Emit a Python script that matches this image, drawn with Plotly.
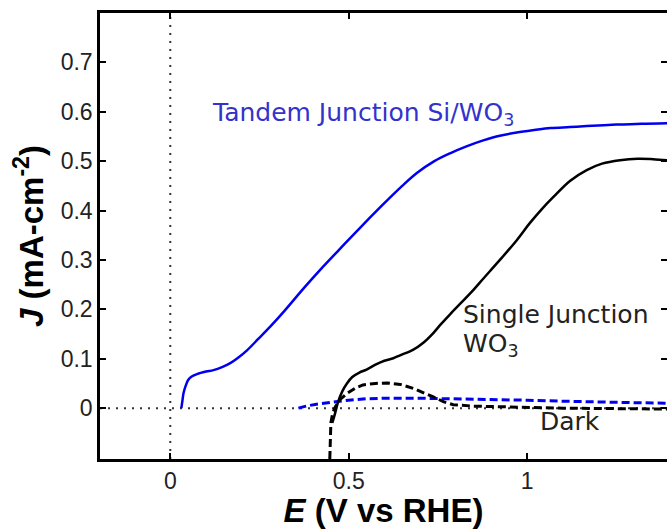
import plotly.graph_objects as go

# ---- data ----
tandem_E = [0.031, 0.034, 0.037, 0.043, 0.050, 0.060, 0.075, 0.100, 0.121, 0.145, 0.168, 0.190,
            0.215, 0.245, 0.280, 0.320, 0.373, 0.420, 0.467, 0.504, 0.560, 0.597, 0.650, 0.691,
            0.740, 0.784, 0.830, 0.877, 0.920, 0.971, 1.020, 1.065, 1.120, 1.167, 1.250, 1.320, 1.392]
tandem_J = [0.000, 0.015, 0.030, 0.045, 0.057, 0.064, 0.069, 0.074, 0.077, 0.083, 0.091, 0.102,
            0.117, 0.139, 0.165, 0.197, 0.242, 0.280, 0.316, 0.344, 0.386, 0.413, 0.450, 0.476,
            0.500, 0.516, 0.530, 0.542, 0.551, 0.558, 0.563, 0.567, 0.569, 0.571, 0.574, 0.576, 0.577]

single_E = [0.454, 0.462, 0.470, 0.482, 0.495, 0.510, 0.530, 0.550, 0.575, 0.600, 0.625, 0.644,
            0.680, 0.710, 0.737, 0.756, 0.784, 0.849, 0.877, 0.920, 0.971, 1.008, 1.040, 1.073,
            1.120, 1.167, 1.210, 1.260, 1.310, 1.353, 1.392]
single_J = [-0.030, -0.010, 0.012, 0.034, 0.050, 0.063, 0.072, 0.078, 0.088, 0.096, 0.101, 0.107,
            0.118, 0.133, 0.152, 0.168, 0.190, 0.239, 0.262, 0.297, 0.340, 0.375, 0.402, 0.427,
            0.460, 0.482, 0.495, 0.502, 0.505, 0.504, 0.502]

dark_tandem_E = [0.359, 0.380, 0.410, 0.448, 0.500, 0.550, 0.600, 0.700, 0.800, 0.900, 1.000,
                 1.100, 1.200, 1.300, 1.392]
dark_tandem_J = [0.000, 0.004, 0.008, 0.012, 0.016, 0.019, 0.020, 0.020, 0.019, 0.017, 0.016,
                 0.014, 0.012, 0.011, 0.010]

dark_single_E = [0.447, 0.448, 0.450, 0.455, 0.462, 0.475, 0.496, 0.520, 0.540, 0.575, 0.608,
                 0.645, 0.681, 0.710, 0.737, 0.765, 0.793, 0.850, 0.900, 0.980, 1.100, 1.250, 1.392]
dark_single_J = [-0.103, -0.060, -0.030, -0.010, 0.002, 0.017, 0.030, 0.041, 0.047, 0.050, 0.051,
                 0.048, 0.040, 0.031, 0.023, 0.013, 0.007, 0.004, 0.003, 0.002, 0.000, -0.001, -0.002]

x_ticks = [0, 0.5, 1]
x_ticklabels = ["0", "0.5", "1"]
y_ticks = [0, 0.1, 0.2, 0.3, 0.4, 0.5, 0.6, 0.7]
y_ticklabels = ["0", "0.1", "0.2", "0.3", "0.4", "0.5", "0.6", "0.7"]

x_range = [-0.197, 1.392]
y_range = [-0.103, 0.8]

BLUE = "#0000ee"
fig = go.Figure()

fig.add_trace(go.Scatter(x=dark_tandem_E, y=dark_tandem_J, mode="lines",
                         line=dict(color=BLUE, width=3, dash="8px,4px"), showlegend=False))
fig.add_trace(go.Scatter(x=dark_single_E, y=dark_single_J, mode="lines",
                         line=dict(color="black", width=3, dash="8px,4px"), showlegend=False))
fig.add_trace(go.Scatter(x=single_E, y=single_J, mode="lines", line_shape="spline",
                         line=dict(color="black", width=2.5), showlegend=False))
fig.add_trace(go.Scatter(x=tandem_E, y=tandem_J, mode="lines", line_shape="spline",
                         line=dict(color=BLUE, width=2.5), showlegend=False))

# dotted reference lines at zero
fig.add_shape(type="line", xref="x", yref="paper", x0=0, x1=0, y0=0, y1=1,
              line=dict(color="#333", width=2, dash="2px,6px"), layer="below")
fig.add_shape(type="line", xref="paper", yref="y", x0=0, x1=1, y0=0, y1=0,
              line=dict(color="#333", width=2, dash="2px,6px"), layer="below")

ann_font = dict(family="DejaVu Sans", size=25)
fig.add_annotation(x=0.112, y=0.595, xref="x", yref="y", text="Tandem Junction Si/WO<sub>3</sub>",
                   showarrow=False, xanchor="left", yanchor="middle",
                   font=dict(color="#3333cc", **ann_font))
fig.add_annotation(x=0.815, y=0.19, xref="x", yref="y", text="Single Junction",
                   showarrow=False, xanchor="left", yanchor="middle",
                   font=dict(color="#222", **ann_font))
fig.add_annotation(x=0.815, y=0.128, xref="x", yref="y", text="WO<sub>3</sub>",
                   showarrow=False, xanchor="left", yanchor="middle",
                   font=dict(color="#222", **ann_font))
fig.add_annotation(x=1.03, y=-0.028, xref="x", yref="y", text="Dark",
                   showarrow=False, xanchor="left", yanchor="middle",
                   font=dict(color="#222", **ann_font))

tick_font = dict(family="Liberation Sans", size=23, color="#222")
title_font = dict(family="Liberation Sans", size=33, color="black")

fig.update_layout(
    width=667, height=529,
    margin=dict(l=100, r=0, t=13, b=70),
    plot_bgcolor="white", paper_bgcolor="white",
    xaxis=dict(range=x_range, tickvals=x_ticks, ticktext=x_ticklabels,
               ticks="inside", ticklen=6, tickwidth=2, tickcolor="black",
               showline=True, linewidth=2.5, linecolor="black", mirror="ticks",
               showgrid=False, zeroline=False, tickfont=tick_font,
               title=dict(text="<b><i>E</i> (V vs RHE)</b>", font=title_font, standoff=7)),
    yaxis=dict(range=y_range, tickvals=y_ticks, ticktext=y_ticklabels,
               ticks="inside", ticklen=6, tickwidth=2, tickcolor="black",
               showline=True, linewidth=2.5, linecolor="black", mirror=False,
               showgrid=False, zeroline=False, tickfont=tick_font,
               title=dict(text="<b><i>J</i> (mA-cm<sup>-2</sup>)</b>", font=title_font, standoff=8)),
    yaxis2=dict(range=y_range, tickvals=y_ticks, overlaying="y", side="right", anchor="x",
                ticks="inside", ticklen=6, tickwidth=2, tickcolor="black",
                showline=False, showgrid=False, zeroline=False, showticklabels=False),
)
# invisible trace so yaxis2 is drawn
fig.add_trace(go.Scatter(x=[x_range[0]], y=[y_range[0]], yaxis="y2", mode="markers",
                         marker=dict(opacity=0), showlegend=False, hoverinfo="skip"))

fig.write_html("out.html", config={"displayModeBar": False},
               post_script="document.body.style.margin='0';document.body.style.overflow='hidden';")
